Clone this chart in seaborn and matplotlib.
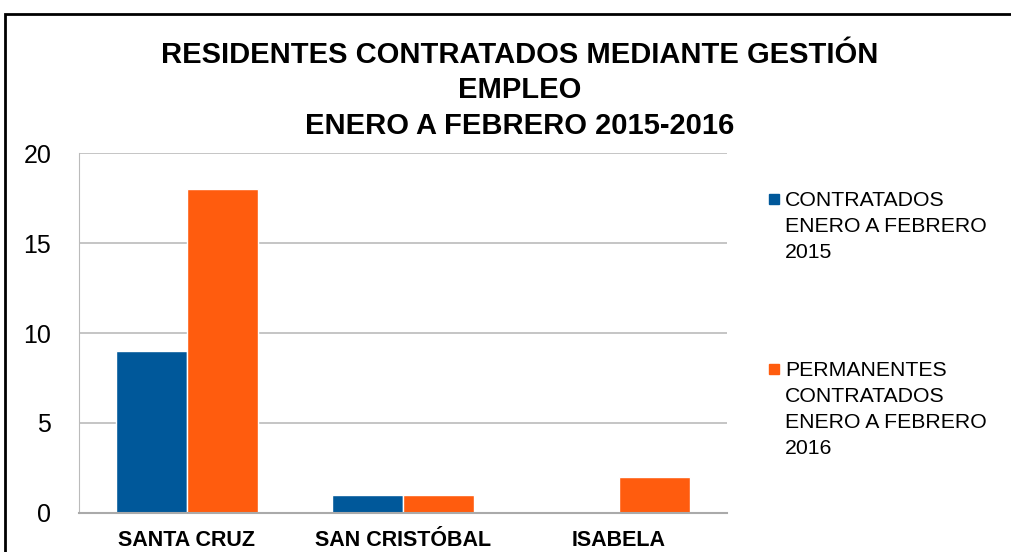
import numpy as np
import pandas as pd
import matplotlib
matplotlib.use('Agg')
import matplotlib.pyplot as plt
import seaborn as sb
from matplotlib.patches import Rectangle

islas = ['SANTA CRUZ', 'SAN CRISTÓBAL', 'ISABELA']
contratados_2015 = [9, 1, 0]
permanentes_2016 = [18, 1, 2]
series = ['CONTRATADOS\nENERO A FEBRERO\n2015',
          'PERMANENTES\nCONTRATADOS\nENERO A FEBRERO\n2016']
colores = ['#00589A', '#FF5C0E']
titulo = 'RESIDENTES CONTRATADOS MEDIANTE GESTIÓN\nEMPLEO\nENERO A FEBRERO 2015-2016'

df = pd.DataFrame({
    'isla': islas * 2,
    'valor': contratados_2015 + permanentes_2016,
    'serie': [series[0]] * 3 + [series[1]] * 3,
})

sb.set_style('white')
plt.rcParams['font.family'] = ['Liberation Sans', 'DejaVu Sans']
plt.rcParams['text.color'] = 'black'
plt.rcParams['xtick.color'] = 'black'
plt.rcParams['ytick.color'] = 'black'

fig = plt.figure(figsize=(10.11, 5.52), dpi=100)
ax = fig.add_axes([0.0781, 0.0707, 0.641, 0.652])

sb.barplot(data=df, x='isla', y='valor', hue='serie', palette=colores,
           width=0.66, saturation=1, legend=False, ax=ax)

ax.set_ylim(0, 20)
ax.set_yticks([0, 5, 10, 15, 20])
ax.set_xlim(-0.5, 2.5)
ax.yaxis.grid(True, color='#BBBBBB', lw=1.2)
ax.set_axisbelow(True)
for s in ['top', 'right']:
    ax.spines[s].set_visible(False)
ax.spines['left'].set_color('#BBBBBB')
ax.spines['bottom'].set_color('#AAAAAA')
ax.spines['bottom'].set_linewidth(1.5)
ax.set_xlabel('')
ax.set_ylabel('')
ax.tick_params(axis='y', labelsize=18, length=6, color='#BBBBBB', pad=14,
               labelcolor='black')
ax.set_xticks([0, 1, 2])
ax.set_xticklabels(islas, fontsize=15.5, fontweight='bold', color='black')
ax.tick_params(axis='x', length=0, pad=12)
# separadores de categoria
ax.set_xticks([-0.5, 0.5, 1.5, 2.5], minor=True)
ax.tick_params(axis='x', which='minor', length=7, color='#AAAAAA', width=1.2)

fig.text(0.514, 1 - 41 / 552, titulo, ha='center', va='top', fontsize=21,
         fontweight='bold', linespacing=1.33, color='black')

# leyenda
lx = 769 / 1011
for lab, col, ytop in zip(series, colores, [191, 361]):
    fig.add_artist(Rectangle((lx, 1 - (ytop + 13) / 552), 10 / 1011, 10 / 552,
                             transform=fig.transFigure, color=col))
    fig.text(785 / 1011, 1 - ytop / 552, lab, ha='left', va='top', fontsize=15.3,
             linespacing=1.46, color='black')

# marco
fig.add_artist(Rectangle((5 / 1011, -0.1), 1.2, 1.1 - 14 / 552,
                         transform=fig.transFigure, fill=False, ec='black', lw=2))

plt.savefig('out.png', dpi=100)
